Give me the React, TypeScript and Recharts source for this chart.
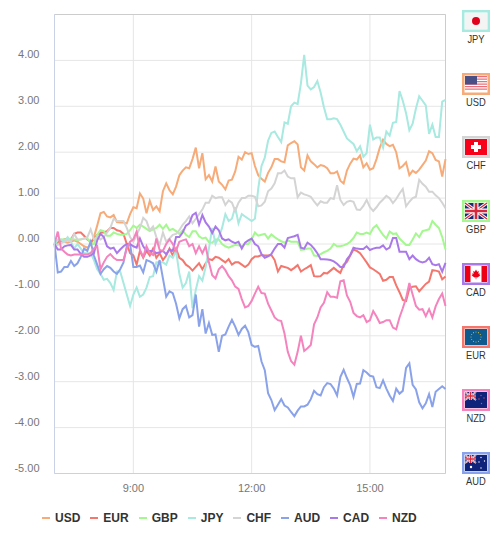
import React from "react";
import { LineChart, Line, XAxis, YAxis, CartesianGrid, ReferenceLine } from "recharts";

// === DATOS ===
// one reading every 5 minutes, from 7:00 to 16:55 (minutes since midnight)
const times: number[] = Array.from({ length: 120 }, (_, i) => 420 + i * 5);
const xTicks = [540, 720, 900];
const yTicks = [-5, -4, -3, -2, -1, 0, 1, 2, 3, 4, 5];

const usd = [
  0, 0.02, 0.07, 0.05, 0.03, 0.05, 0.08, 0.05, 0, -0.05,
  -0.08, -0.02, 0.15, 0.4, 0.67, 0.7, 0.6, 0.58, 0.63, 0.48,
  0.47, 0.47, 0.45, 0.65, 0.8, 0.78, 1.1, 0.99, 0.67, 0.94,
  0.74, 0.82, 0.71, 1.15, 1.32, 1.17, 1.08, 1.25, 1.5, 1.6,
  1.67, 1.65, 1.85, 2.1, 1.65, 1.98, 1.41, 1.5, 1.36, 1.69,
  1.36, 1.29, 1.19, 1.38, 1.4, 1.58, 1.9, 1.84, 2.0, 1.96,
  1.98, 1.7, 1.5, 1.42, 1.36, 1.55, 1.67, 1.85, 1.85, 1.8,
  1.78, 2.15, 2.2, 2.24, 2.17, 1.67, 1.6, 1.93, 1.8, 1.74,
  1.67, 1.72, 1.7, 1.65, 1.54, 1.54, 1.58, 1.38, 1.32, 1.6,
  1.75, 1.86, 1.84, 1.93, 1.67, 1.76, 1.62, 1.65, 1.85, 2.1,
  2.27, 2.18, 2.13, 2.16, 2.0, 1.65, 1.7, 1.78, 1.5, 1.6,
  1.55, 1.62, 1.72, 1.82, 2.02, 1.98, 1.83, 1.8, 1.47, 1.85,
];
const eur = [
  0, 0.05, 0.08, 0.1, 0.12, 0.1, 0.22, 0.25, 0.25, 0.18,
  0.1, 0.05, 0.1, 0.2, 0.25, 0.25, 0.28, 0.35, 0.35, 0.3,
  0.28, 0.22, 0, -0.2, -0.25, -0.45, -0.15, -0.3, -0.15, -0.25,
  -0.1, -0.3, -0.2, -0.35, -0.25, -0.1, -0.25, -0.1, -0.3, -0.35,
  -0.45, -0.5, -0.58, -0.5, -0.42, -0.55, -0.42, -0.33, -0.35, -0.28,
  -0.3, -0.35, -0.4, -0.33, -0.45, -0.4, -0.4, -0.45, -0.5, -0.45,
  -0.33, -0.27, -0.27, -0.24, -0.25, -0.25, -0.24, -0.35, -0.6, -0.48,
  -0.5, -0.52, -0.57, -0.52, -0.46, -0.6, -0.55, -0.51, -0.46, -0.7,
  -0.71, -0.7, -0.63, -0.64, -0.58, -0.52, -0.58, -0.63, -0.45, -0.39,
  -0.25, -0.12, -0.15, -0.2, -0.3, -0.4, -0.51, -0.55, -0.6, -0.65,
  -0.8, -0.78, -0.72, -0.72, -0.9, -1.05, -1.22, -1.24, -0.97, -0.93,
  -0.92, -1.03, -0.95, -0.87, -0.82, -0.57, -0.58, -0.6, -0.77, -0.71,
];
const gbp = [
  0, 0.08, 0.1, 0.1, 0.1, 0.12, 0.1, 0.08, 0.1, 0.12,
  0.12, 0.02, 0, 0.2, 0.3, 0.28, 0.18, 0.18, 0.25, 0.22,
  0.2, 0.2, 0.22, 0.3, 0.4, 0.35, 0.42, 0.38, 0.33, 0.28,
  0.32, 0.35, 0.42, 0.33, 0.42, 0.3, 0.33, 0.28, 0.22, 0.3,
  0.2, 0.15, 0.28, 0.28, 0.17, 0.12, 0.14, 0.04, 0.03, 0.1,
  0.1, 0, -0.05, -0.08, -0.05, -0.02, -0.03, -0.05, 0, 0,
  0.1, 0.25, 0.18, 0.2, 0.22, 0.12, 0.21, 0.15, 0.1, 0.06,
  0.03, 0.08, 0.05, 0.05, 0.05, -0.13, -0.12, -0.1, -0.1, -0.25,
  -0.26, -0.22, -0.18, -0.15, -0.1, 0, -0.05, -0.05, -0.03, 0,
  0.05, 0.13, 0.25, 0.22, 0.22, 0.25, 0.22, 0.35, 0.41, 0.3,
  0.2, 0.12, 0.27, 0.22, 0.23, 0.12, 0.05, -0.02, -0.02, 0.1,
  0.23, 0.15, 0.28, 0.3, 0.32, 0.5, 0.42, 0.35, 0.15, -0.12,
];
const jpy = [
  0, 0.1, 0.1, 0.05, 0.15, 0.05, -0.1, 0, -0.1, -0.2,
  -0.2, -0.2, -0.35, -0.55, -0.65, -0.78, -0.76, -0.85, -1.0, -0.6,
  -0.6, -0.85, -1.1, -1.35, -1.1, -0.95, -1.15, -1.1, -0.95, -0.72,
  -0.7, -0.4, -0.4, -0.4, -0.45, -0.25, -0.3, -0.15, -0.65, -0.95,
  -0.85, -0.6, -1.4, -1.0, -0.7, -0.8, -0.5, -0.1, 0.35, 0,
  0.15, 0.35, 0.65, 0.5, 0.55, 0.8, 0.45, 0.65, 0.6, 0.55,
  0.5, 0.55, 1.2, 1.7, 1.88, 2.25, 2.42, 2.45, 2.33, 2.22,
  2.65, 2.62, 3.0, 3.08, 3.05, 3.5, 4.12, 3.45, 3.37, 3.42,
  3.55, 3.3, 2.98, 2.72, 2.72, 2.74, 2.72, 2.6, 2.45, 2.3,
  2.24, 2.18, 2.02, 2.13, 1.9, 1.98, 2.6, 2.28, 2.32, 2.32,
  2.1, 2.45, 2.36, 2.64, 2.66, 3.33, 3.12, 2.85, 2.48, 2.62,
  2.95, 3.22, 3.12, 3.02, 2.4, 2.6, 2.33, 2.33, 3.1, 3.14,
];
const chf = [
  0, -0.02, 0.02, 0.05, 0.08, 0.05, 0.22, 0.1, 0.1, 0.12,
  0.15, 0.32, 0.1, 0.15, 0.1, 0.15, 0.25, 0.35, 0.55, 0.5,
  0.5, 0.5, 0.35, 0.15, 0.05, 0.2, 0.35, 0.57, 0.5, 0.3,
  0.38, 0.15, -0.02, 0.25, 0.05, 0.12, 0.2, 0.22, 0.3, 0.42,
  0.5, 0.6, 0.45, 0.55, 0.65, 0.75, 0.9, 0.9, 1.05, 1.0,
  1.02, 1.02, 0.85, 0.95, 0.9, 0.72, 0.9, 1.0, 1.0, 1.05,
  1.05, 1.03, 0.82, 0.84, 0.92, 1.15, 1.21, 1.32, 1.54, 1.54,
  1.6, 1.47, 1.43, 1.43, 1.02, 1.12, 1.08, 1.06, 1.03, 0.93,
  0.84, 0.93, 0.9, 0.9, 1.0, 0.98, 1.28, 0.96, 0.85, 0.92,
  0.94, 0.92, 0.75, 0.74, 0.83, 0.96, 0.8, 0.72, 0.8, 0.9,
  0.97, 1.05, 1.0, 0.89, 0.98, 1.1, 1.2, 0.82, 0.92, 1.0,
  1.03, 1.4, 1.31, 1.25, 1.14, 1.14, 1.06, 1.0, 0.9, 0.78,
];
const aud = [
  0, -0.62, -0.6, -0.5, -0.5, -0.37, -0.48, -0.42, -0.28, -0.1,
  -0.15, 0.05, -0.25, -0.45, -0.65, -0.55, -0.48, -0.52, -0.6, -0.65,
  -0.55, -0.4, -0.05, 0, -0.5, -0.5, -0.47, -0.62, -0.35, -0.38,
  -0.42, -0.6, -0.35, -0.75, -1.15, -1.03, -1.07, -1.3, -1.62, -1.42,
  -1.35, -1.6, -1.55, -1.1, -1.8, -1.42, -1.95, -1.72, -1.98, -1.97,
  -2.35, -2.0, -1.97, -1.8, -1.65, -1.8, -1.98, -1.85, -1.78, -1.92,
  -2.2, -2.24, -2.22, -2.56, -2.75, -3.25, -3.4, -3.62, -3.5, -3.38,
  -3.52, -3.56, -3.66, -3.75, -3.63, -3.54, -3.54, -3.5, -3.38, -3.2,
  -3.27, -3.3, -3.12, -3.03, -3.05, -3.15, -3.3, -2.9, -2.74, -2.92,
  -3.08, -3.33, -3.05, -3.04, -2.75, -2.8, -2.87, -2.89, -3.12, -3.14,
  -2.97, -3.15, -3.3, -3.42, -3.15, -3.26, -3.2, -2.7, -2.6, -3.07,
  -3.17, -3.45, -3.58, -3.47, -3.27, -3.55, -3.22, -3.16, -3.1, -3.16,
];
const cad = [
  0, -0.12, -0.12, -0.05, -0.03, -0.02, -0.12, -0.12, -0.22, -0.28,
  -0.28, -0.25, -0.2, 0.08, 0.22, 0.15, -0.05, -0.1, -0.08, -0.2,
  -0.12, -0.05, 0, 0, -0.05, -0.08, 0.12, -0.05, -0.15, -0.15,
  -0.15, -0.2, -0.18, -0.15, -0.22, -0.12, -0.15, 0.15, 0.15, 0.25,
  0.4, 0.45, 0.63, 0.68, 0.42, 0.63, 0.47, 0.38, 0.24, 0.38,
  0.3, 0.12, 0.08, 0.1, 0.05, 0.02, 0.05, -0.1, 0.03, 0.08,
  0.12, 0, -0.05, -0.22, -0.3, -0.27, -0.22, -0.1, 0, 0,
  -0.08, 0.13, 0.15, 0.17, 0.2, -0.08, -0.1, 0.03, -0.02, -0.1,
  -0.2, -0.33, -0.33, -0.34, -0.35, -0.38, -0.43, -0.5, -0.5, -0.33,
  -0.24, -0.08, -0.1, -0.11, -0.11, -0.05, -0.13, -0.1, -0.08, -0.08,
  -0.03, -0.12, -0.08, 0.13, 0.13, -0.17, -0.17, -0.17, -0.33, -0.25,
  -0.33, -0.38, -0.4, -0.38, -0.3, -0.44, -0.46, -0.44, -0.6, -0.41,
];
const nzd = [
  0, 0.27, -0.1, -0.17, -0.23, -0.25, -0.23, -0.23, -0.23, -0.23,
  -0.23, -0.2, -0.1, -0.05, -0.55, -0.4, -0.28, -0.22, -0.3, -0.35,
  -0.35, -0.35, -0.1, 0.05, 0.1, 0.27, -0.13, -0.28, -0.05, -0.2,
  -0.24, 0.12, -0.13, -0.15, 0, 0.1, 0, -0.15, 0.05, 0.08,
  0.1, -0.05, 0, -0.2, -0.05, -0.2, -0.05, -0.4, -0.68, -0.75,
  -0.55, -0.48, -0.57, -0.7, -0.79, -0.93, -0.98, -1.2, -1.38, -1.35,
  -1.24, -1.08, -0.93, -1.07, -1.08, -1.3, -1.45, -1.6, -1.66, -1.68,
  -1.95, -2.35, -2.55, -2.63, -2.35, -2.0, -2.33, -2.27, -2.2, -1.75,
  -1.6, -1.38, -1.28, -1.05, -1.15, -1.15, -1.17, -0.81, -0.79, -1.12,
  -1.26, -1.5, -1.57, -1.6, -1.55, -1.7, -1.66, -1.46, -1.58, -1.72,
  -1.7, -1.66, -1.66, -1.82, -1.86, -1.6, -1.4, -1.18, -0.85, -1.1,
  -1.35, -1.43, -1.42, -1.57, -1.42, -1.6, -1.36, -1.2, -1.08, -1.35,
];

// orden de dibujo = orden de la leyenda
const seriesNames = ["USD", "EUR", "GBP", "JPY", "CHF", "AUD", "CAD", "NZD"];
const seriesValues = [usd, eur, gbp, jpy, chf, aud, cad, nzd];
const seriesColors = ["#f6ab78", "#f4776e", "#a4f88f", "#a8e9e0", "#d4d4d4", "#8aa2e9", "#aa79e9", "#f483be"];
const flagOrder = ["JPY", "USD", "CHF", "GBP", "CAD", "EUR", "NZD", "AUD"];

const rows = times.map((t, i) => {
  const row: Record<string, number> = { t };
  seriesNames.forEach((name, s) => {
    row[name] = seriesValues[s][i];
  });
  return row;
});

const colorOf = (name: string) => seriesColors[seriesNames.indexOf(name)];
const fmtHour = (m: number) => `${Math.floor(m / 60)}:00`;

// === TICKS ===
const YTick = ({ x, y, payload }: any) =>
  payload.value === 5 ? null : (
    <text x={54.5 - 15} y={y - 2} textAnchor="end" fontSize={11} fill="#777">
      {payload.value.toFixed(2)}
    </text>
  );

const XTick = ({ x, y, payload }: any) => (
  <text x={x} y={473.5 + 18} textAnchor="middle" fontSize={11} fill="#777">
    {fmtHour(payload.value)}
  </text>
);

// === BANDERAS ===
const UnionJack = ({ w, h }: { w: number; h: number }) => (
  <g>
    <rect width={w} height={h} fill="#1a2a78" />
    <path d={`M0 0L${w} ${h}M${w} 0L0 ${h}`} stroke="#fff" strokeWidth={h / 5} />
    <path d={`M0 0L${w} ${h}M${w} 0L0 ${h}`} stroke="#d8283c" strokeWidth={h / 12} />
    <path d={`M${w / 2} 0V${h}M0 ${h / 2}H${w}`} stroke="#fff" strokeWidth={h / 3.2} />
    <path d={`M${w / 2} 0V${h}M0 ${h / 2}H${w}`} stroke="#d8283c" strokeWidth={h / 6} />
  </g>
);

const Flag = ({ code }: { code: string }) => {
  switch (code) {
    case "JPY":
      return (
        <g>
          <rect width={22} height={16} fill="#f4f4f4" />
          <circle cx={11} cy={8} r={4} fill="#e0001b" />
        </g>
      );
    case "USD":
      return (
        <g>
          <rect width={22} height={16} fill="#fff" />
          {[0, 2.5, 5, 7.5, 10, 12.5].map((y) => (
            <rect key={y} y={y} width={22} height={1.25} fill="#e8707c" />
          ))}
          <rect width={12} height={8.5} fill="#4a4f86" />
        </g>
      );
    case "CHF":
      return (
        <g>
          <rect width={22} height={16} fill="#f6001a" />
          <rect x={9} y={3} width={4} height={10} fill="#fff" />
          <rect x={6} y={6} width={10} height={4} fill="#fff" />
        </g>
      );
    case "GBP":
      return <UnionJack w={22} h={16} />;
    case "CAD":
      return (
        <g>
          <rect width={22} height={16} fill="#fff" />
          <rect width={5.5} height={16} fill="#ee0014" />
          <rect x={16.5} width={5.5} height={16} fill="#ee0014" />
          <path d="M11 3.5l1.2 2.2 1.6-.6-.5 2.6 1.7-.3-.6 1.6 1 .5-3 2-1.1-.2v2h-.6v-2l-1.1.2-3-2 1-.5-.6-1.6 1.7.3-.5-2.6 1.6.6z" fill="#ee0014" />
        </g>
      );
    case "EUR":
      return (
        <g>
          <rect width={22} height={16} fill="#0d5a8e" />
          {[0, 30, 60, 90, 120, 150, 180, 210, 240, 270, 300, 330].map((a) => (
            <circle
              key={a}
              cx={11 + 5 * Math.cos((a * Math.PI) / 180)}
              cy={8 + 5 * Math.sin((a * Math.PI) / 180)}
              r={0.55}
              fill="#c9b94a"
            />
          ))}
        </g>
      );
    default: {
      const stars = code === "NZD"
        ? [[16, 3.5], [19, 6], [14, 7], [16.5, 11.5]]
        : [[6, 12], [16, 2.5], [19.5, 6], [14, 7], [16, 13]];
      return (
        <g>
          <rect width={22} height={16} fill="#10237a" />
          <g>
            <UnionJack w={11} h={8} />
          </g>
          {stars.map(([cx, cy], i) => (
            <circle key={i} cx={cx} cy={cy} r={code === "AUD" && i === 0 ? 1.2 : 0.7} fill={code === "NZD" ? "#e0485c" : "#fff"} />
          ))}
        </g>
      );
    }
  }
};

const FlagPanel = () => (
  <>
    {flagOrder.map((code, i) => (
      <div key={code} style={{ position: "absolute", left: 462, top: 10 + i * 63.2, width: 28, textAlign: "center" }}>
        <svg width={28} height={22} style={{ display: "block" }}>
          <rect x={1.25} y={1.25} width={25.5} height={19.5} fill="#fff" stroke={colorOf(code)} strokeWidth={2.5} />
          <g transform="translate(3 3)">
            <Flag code={code} />
          </g>
        </svg>
        <div style={{ fontSize: 11, lineHeight: "13px", color: "#333", marginTop: 1, transform: "scaleX(0.85)" }}>
          {code}
        </div>
      </div>
    ))}
  </>
);

const LegendRow = () => (
  <div
    style={{
      position: "absolute",
      left: 42,
      top: 511,
      display: "flex",
      fontSize: 12,
      fontWeight: "bold",
      lineHeight: "14px",
      color: "#333",
    }}
  >
    {seriesNames.map((name, i) => (
      <div key={name} style={{ display: "flex", alignItems: "center", marginLeft: i === 0 ? 0 : 10 }}>
        <span style={{ width: 8, height: 2, marginRight: 5, background: seriesColors[i], display: "inline-block" }} />
        {name}
      </div>
    ))}
  </div>
);

// === COMPONENTE ===
const App: React.FC = () => (
  <div style={{ position: "absolute", left: 0, top: 0, width: 500, height: 546, fontFamily: "'Liberation Sans', Arial, sans-serif" }}>
    <LineChart width={500} height={546} data={rows} margin={{ top: 14.5, right: 54.5, bottom: 52.5, left: 14.5 }}>
      <CartesianGrid stroke="#e6e6e6" strokeWidth={1} />
      <XAxis
        dataKey="t"
        type="number"
        domain={[420, 1015]}
        ticks={xTicks}
        tick={<XTick />}
        tickLine={false}
        axisLine={{ stroke: "#c8d1e6" }}
        height={20}
      />
      <YAxis
        type="number"
        domain={[-5, 5]}
        ticks={yTicks}
        tick={<YTick />}
        tickLine={false}
        axisLine={{ stroke: "#c8d1e6" }}
        width={40}
        interval={0}
      />
      <ReferenceLine y={5} stroke="#cccccc" />
      <ReferenceLine x={1015} stroke="#cccccc" />
      {seriesNames.map((name, i) => (
        <Line
          key={name}
          dataKey={name}
          stroke={seriesColors[i]}
          strokeWidth={2}
          dot={false}
          activeDot={false}
          isAnimationActive={false}
        />
      ))}
    </LineChart>
    <LegendRow />
    <FlagPanel />
  </div>
);

export default App;
